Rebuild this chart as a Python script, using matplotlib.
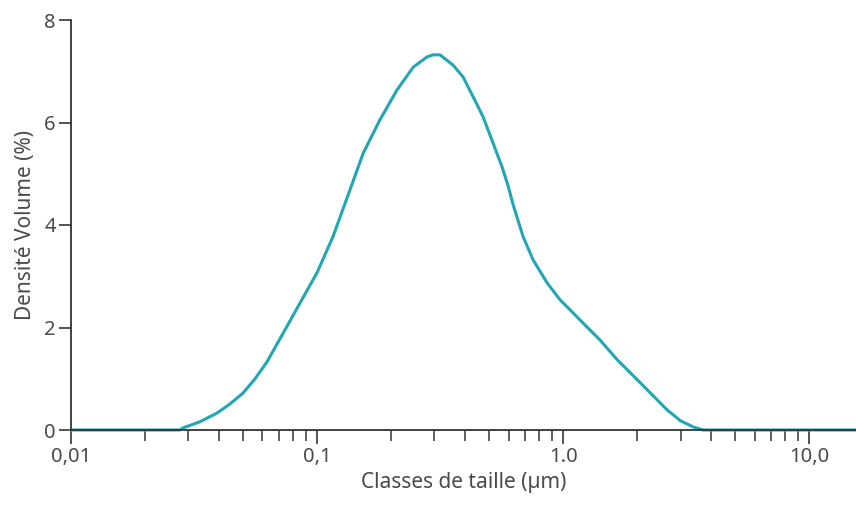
import numpy as np
import matplotlib.pyplot as plt
from matplotlib.ticker import LogLocator, FixedLocator, NullFormatter

# particle size classes (um) and volume density (%)
size_um = [0.01, 0.0277, 0.0285, 0.0334, 0.0392, 0.0443, 0.0500, 0.0560, 0.0626,
           0.0748, 0.0853, 0.100, 0.116, 0.135, 0.154, 0.180, 0.211, 0.246,
           0.280, 0.296, 0.316, 0.357, 0.392, 0.431, 0.473, 0.519, 0.565,
           0.598, 0.626, 0.688, 0.755, 0.861, 0.972, 1.10, 1.25, 1.41, 1.66,
           2.06, 2.65, 3.00, 3.38, 3.71, 15.5]
density = [0, 0, 0.04, 0.16, 0.33, 0.51, 0.72, 1.00, 1.33,
           1.99, 2.48, 3.07, 3.77, 4.64, 5.40, 6.05, 6.63, 7.08,
           7.28, 7.32, 7.32, 7.12, 6.89, 6.50, 6.11, 5.60, 5.13,
           4.76, 4.40, 3.77, 3.32, 2.87, 2.54, 2.28, 2.01, 1.76, 1.37,
           0.92, 0.39, 0.18, 0.06, 0, 0]

xticks = [0.01, 0.1, 1.0, 10.0]
xtick_labels = ['0,01', '0,1', '1.0', '10,0']
yticks = [0, 2, 4, 6, 8]

plt.rcParams['font.family'] = ['Noto Sans', 'DejaVu Sans']

fig = plt.figure(figsize=(8.56, 5.07), dpi=100)
ax = fig.add_axes([71 / 856, 1 - 430 / 507, 1 - 71 / 856, (430 - 20) / 507])

ax.plot(size_um, density, color='#22a6b3', lw=2.2, solid_joinstyle='round',
        solid_capstyle='round', clip_on=False)

ax.set_xscale('log')
ax.set_xlim(0.01, 15.5)
ax.set_ylim(0, 8)

ax.xaxis.set_major_locator(FixedLocator(xticks))
ax.set_xticklabels(xtick_labels)
ax.xaxis.set_minor_locator(LogLocator(base=10, subs=np.arange(2, 10)))
ax.xaxis.set_minor_formatter(NullFormatter())
ax.set_yticks(yticks)

for s in ['top', 'right']:
    ax.spines[s].set_visible(False)
for s in ['left', 'bottom']:
    ax.spines[s].set_color('#333333')
    ax.spines[s].set_linewidth(1.3)

ax.tick_params(axis='x', which='major', length=10, width=1.3, color='#444444',
               labelsize=14.5, labelcolor='#4a4a4a', pad=2)
ax.tick_params(axis='x', which='minor', length=8, width=1.2, color='#444444')
ax.tick_params(axis='y', length=9, width=1.3, color='#444444',
               labelsize=14.5, labelcolor='#4a4a4a', pad=2)

ax.set_xlabel('Classes de taille (µm)', fontsize=15, color='#4a4a4a', labelpad=4)
ax.set_ylabel('Densité Volume (%)', fontsize=15, color='#4a4a4a', labelpad=6)

fig.savefig('out.png', dpi=100)
